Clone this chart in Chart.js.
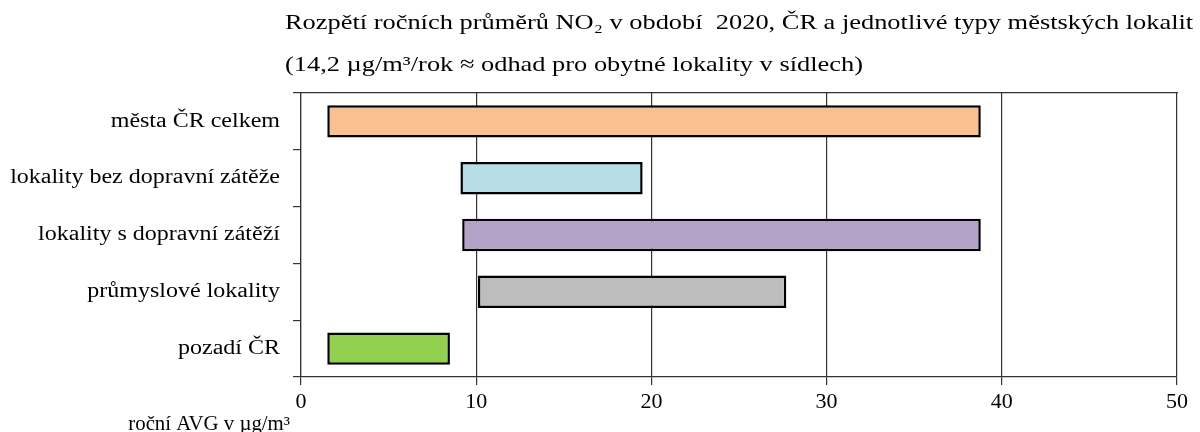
<!DOCTYPE html>
<html>
<head>
<meta charset="utf-8">
<script src="https://cdn.jsdelivr.net/npm/chart.js@4.4.1/dist/chart.umd.min.js"></script>
<style>
  body { margin: 0; background: #fff; }
  #wrap { width: 1200px; height: 432px; }
</style>
</head>
<body>
<div id="wrap"><canvas id="no2Chart"></canvas></div>
<script>
// kategorie lokalit a rozpětí ročních průměrů (min, max) v µg/m³
const categories = [
  "města ČR celkem",
  "lokality bez dopravní zátěže",
  "lokality s dopravní zátěží",
  "průmyslové lokality",
  "pozadí ČR"
];
const minValues = [1.5, 9.1, 9.2, 10.1, 1.5];
const maxValues = [38.8, 19.5, 38.8, 27.7, 8.5];
const xTicks = [0, 10, 20, 30, 40, 50];

const titleLines = [
  "Rozpětí ročních průměrů NO₂ v období  2020, ČR a jednotlivé typy městských lokalit",
  "(14,2 µg/m³/rok ≈ odhad pro obytné lokality v sídlech)"
];
const axisTitle = "roční AVG v µg/m³";

const barColors = ["#FAC090", "#B7DDE8", "#B3A2C7", "#BDBDBD", "#92D050"];
const serif = "'Liberation Serif', 'Times New Roman', serif";

// text v originále je vodorovně roztažený
function stretchedText(ctx, text, x, y, size, stretch, align) {
  ctx.save();
  ctx.font = size + "px " + serif;
  ctx.textAlign = align;
  ctx.translate(x, y);
  ctx.scale(stretch, 1);
  ctx.fillText(text, 0, 0);
  ctx.restore();
}

/* ---- texty: nadpis, popisky kategorií, název osy ---- */
const textPlugin = {
  id: "extraText",
  afterDraw(chart) {
    const ctx = chart.ctx;
    const area = chart.chartArea;
    const yScale = chart.scales.y;
    ctx.save();
    ctx.fillStyle = "#000";
    ctx.textBaseline = "alphabetic";

    stretchedText(ctx, titleLines[0], area.left - 16, 29, 22, 1.2, "left");
    stretchedText(ctx, titleLines[1], area.left - 16, 71, 22, 1.2, "left");

    ctx.textBaseline = "middle";
    categories.forEach((c, i) => {
      stretchedText(ctx, c, area.left - 21, yScale.getPixelForValue(i), 20, 1.2, "right");
    });

    ctx.textBaseline = "alphabetic";
    stretchedText(ctx, axisTitle, area.left - 11, 430, 20, 1.04, "right");
    ctx.restore();
  }
};

new Chart(document.getElementById("no2Chart"), {
  type: "bar",
  data: {
    labels: categories,
    datasets: [{
      data: categories.map((c, i) => [minValues[i], maxValues[i]]),
      backgroundColor: barColors,
      borderColor: "#000",
      borderWidth: 2.5,
      borderSkipped: false,
      categoryPercentage: 1,
      barPercentage: 0.57
    }]
  },
  options: {
    indexAxis: "y",
    responsive: true,
    maintainAspectRatio: false,
    animation: false,
    layout: { padding: { top: 93, right: 23, left: 0, bottom: 0 } },
    plugins: {
      legend: { display: false },
      tooltip: { enabled: false }
    },
    scales: {
      x: {
        type: "linear",
        min: 0,
        max: 50,
        afterBuildTicks: scale => { scale.ticks = xTicks.map(v => ({ value: v })); },
        afterFit: scale => { scale.height = 55; },
        grid: {
          color: "#333",
          lineWidth: 1.2,
          tickLength: 8,
          tickColor: "#333"
        },
        border: { color: "#333", width: 1.2 },
        ticks: {
          color: "#000",
          font: { family: serif, size: 22 },
          padding: 4,
          maxRotation: 0
        }
      },
      xTop: {
        type: "linear",
        position: "top",
        min: 0,
        max: 50,
        afterFit: scale => { scale.height = 0; },
        grid: { display: false },
        ticks: { display: false },
        border: { display: true, color: "#333", width: 1.2 }
      },
      y: {
        type: "category",
        offset: true,
        afterFit: scale => { scale.width = 301; },
        grid: {
          offset: true,
          drawOnChartArea: false,
          tickLength: 8,
          color: "#333",
          lineWidth: 1.2
        },
        border: { color: "#333", width: 1.2 },
        ticks: { display: false }
      }
    }
  },
  plugins: [textPlugin]
});
</script>
</body>
</html>
